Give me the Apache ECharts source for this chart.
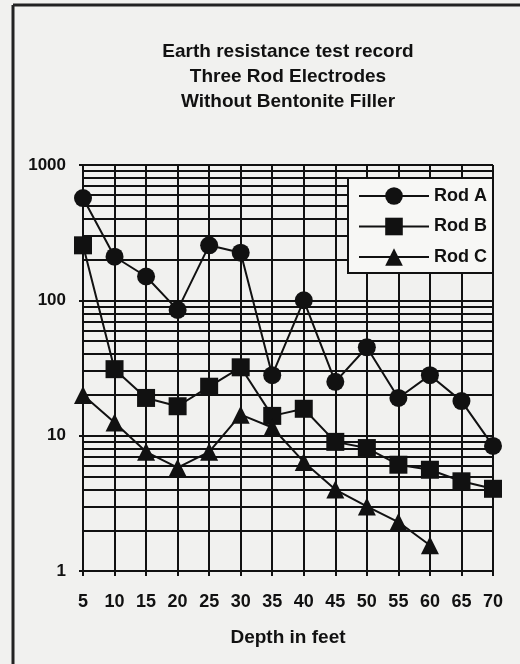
<!DOCTYPE html>
<html>
<head>
<meta charset="utf-8">
<script src="https://cdn.jsdelivr.net/npm/echarts@6/dist/echarts.min.js"></script>
<style>
html,body{margin:0;padding:0;background:#f1f1ef;}
#chart{width:520px;height:664px;}
</style>
</head>
<body>
<div id="chart"></div>
<script>
const titleLines = ['Earth resistance test record', 'Three Rod Electrodes', 'Without Bentonite Filler'];
const xAxisName = 'Depth in feet';
const depths = [5, 10, 15, 20, 25, 30, 35, 40, 45, 50, 55, 60, 65, 70];
const rodA = [570, 210, 150, 85, 255, 225, 28, 100, 25, 45, 19, 28, 18, 8.4];
const rodB = [255, 31, 19, 16.5, 23, 32, 14, 15.8, 9, 8.1, 6.1, 5.6, 4.6, 4.05];
const rodC = [20, 12.5, 7.6, 5.8, 7.6, 14.3, 11.5, 6.4, 4.0, 3.0, 2.3, 1.55];
const seriesNames = ['Rod A', 'Rod B', 'Rod C'];
const minorGrid = [2, 3, 4, 5, 6, 7, 8, 9, 20, 30, 40, 50, 60, 70, 80, 90, 200, 300, 400, 500, 600, 700, 800, 900];

const FONT = '"Liberation Sans", Arial, sans-serif';
const INK = '#111';

function pairs(vals) { return vals.map((v, i) => [depths[i], v]); }

const chart = echarts.init(document.getElementById('chart'));
const lineSeries = (name, vals, symbol) => ({
  name, type: 'line', data: pairs(vals), symbol, symbolSize: 18,
  lineStyle: { color: INK, width: 2 }, itemStyle: { color: INK },
  z: 5, animation: false
});

chart.setOption({
  backgroundColor: '#f1f1ef',
  animation: false,
  graphic: [
    { type: 'line', shape: { x1: 13, y1: 5, x2: 520, y2: 5 }, style: { stroke: '#222', lineWidth: 3 } },
    { type: 'line', shape: { x1: 13, y1: 5, x2: 13, y2: 664 }, style: { stroke: '#222', lineWidth: 3 } },
    { type: 'text', x: 288, y: 39, style: { text: titleLines.join('\n'), align: 'center', font: 'bold 19px ' + FONT, lineHeight: 25, fill: INK } }
  ],
  grid: { left: 83, right: 27, top: 165, bottom: 93, containLabel: false },
  legend: {
    orient: 'vertical', left: 348, top: 178, z: 20,
    backgroundColor: '#f7f7f5', borderColor: INK, borderWidth: 2,
    padding: [9, 6, 7, 10], itemGap: 12.5, itemWidth: 70, itemHeight: 22,
    textStyle: { fontFamily: FONT, fontWeight: 'bold', fontSize: 18, color: INK },
    data: seriesNames
  },
  xAxis: {
    type: 'value', min: 5, max: 70, interval: 5,
    name: xAxisName, nameLocation: 'middle', nameGap: 57,
    nameTextStyle: { fontFamily: FONT, fontWeight: 'bold', fontSize: 19, color: INK },
    axisLine: { show: true, lineStyle: { color: INK, width: 2 } },
    axisTick: { show: true, length: 5, lineStyle: { color: INK, width: 2 } },
    axisLabel: { margin: 22, fontFamily: FONT, fontWeight: 'bold', fontSize: 18, color: INK },
    splitLine: { show: true, lineStyle: { color: INK, width: 2 } }
  },
  yAxis: {
    type: 'log', logBase: 10, min: 1, max: 1000,
    axisLine: { show: false },
    axisTick: { show: true, length: 4, lineStyle: { color: INK, width: 2 } },
    axisLabel: { margin: 17, fontFamily: FONT, fontWeight: 'bold', fontSize: 17, color: INK, formatter: v => String(Math.round(v)) },
    splitLine: { show: true, lineStyle: { color: INK, width: 2 } }
  },
  series: [
    {
      type: 'line', data: [], silent: true, z: 1,
      markLine: {
        silent: true, symbol: ['none', 'none'], label: { show: false },
        lineStyle: { color: INK, width: 2, type: 'solid' }, animation: false,
        data: minorGrid.map(v => ({ yAxis: v }))
      }
    },
    lineSeries(seriesNames[0], rodA, 'circle'),
    lineSeries(seriesNames[1], rodB, 'rect'),
    lineSeries(seriesNames[2], rodC, 'triangle')
  ]
});
</script>
</body>
</html>
